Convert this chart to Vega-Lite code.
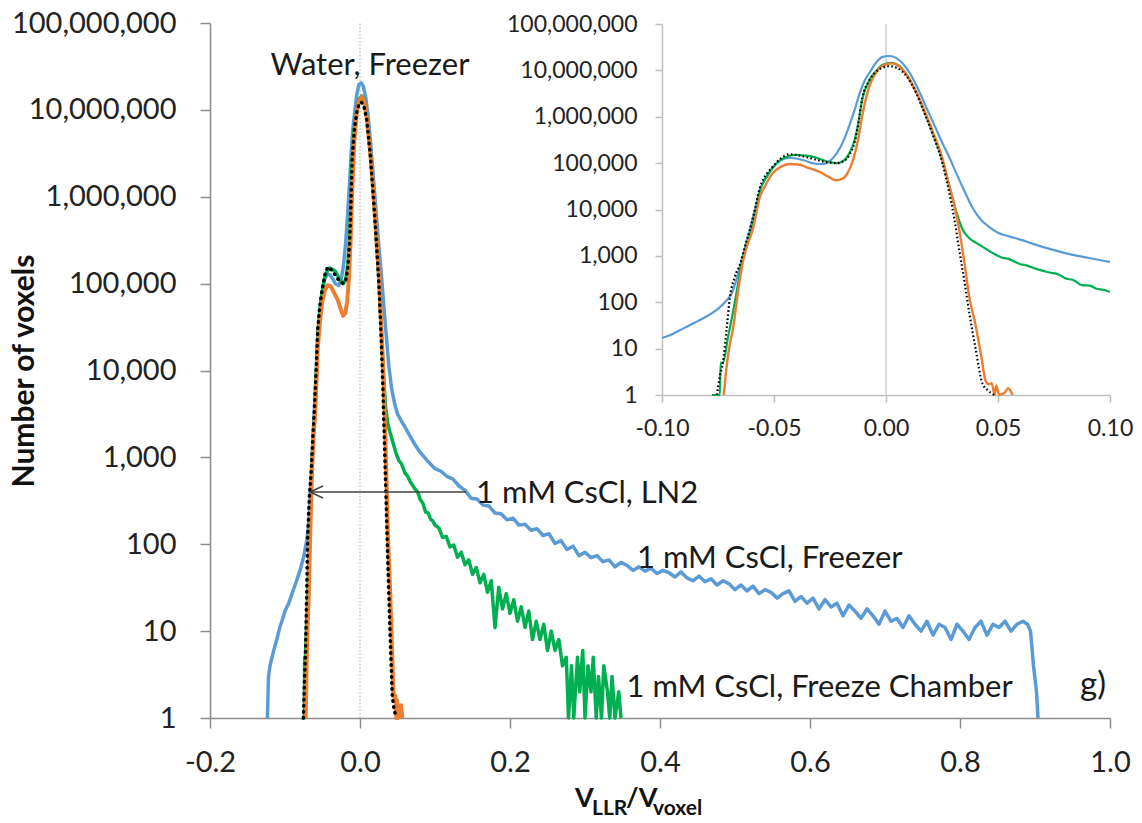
{
"$schema": "https://vega.github.io/schema/vega-lite/v6.json",
"width": 900,
"height": 695,
"autosize": {"type": "none"},
"padding": {"left": 210, "top": 23, "right": 32, "bottom": 105},
"background": "#ffffff",
"config": {"view": {"stroke": null}, "font": "Lato"},
"datasets": {
"curves": [
{"s":"B","x":-0.1235,"y":1},{"s":"B","x":-0.122,"y":3},{"s":"B","x":-0.12,"y":4},{"s":"B","x":-0.115,"y":6},{"s":"B","x":-0.111,"y":8},{"s":"B","x":-0.107,"y":11},{"s":"B","x":-0.103,"y":14},{"s":"B","x":-0.1,"y":17},{"s":"B","x":-0.095,"y":21},{"s":"B","x":-0.09,"y":28},{"s":"B","x":-0.085,"y":37},{"s":"B","x":-0.08,"y":50},{"s":"B","x":-0.075,"y":72},{"s":"B","x":-0.071,"y":112},{"s":"B","x":-0.0688,"y":158},{"s":"B","x":-0.067,"y":282},{"s":"B","x":-0.0653,"y":575},{"s":"B","x":-0.063,"y":1413},{"s":"B","x":-0.0608,"y":3631},{"s":"B","x":-0.058,"y":12589},{"s":"B","x":-0.056,"y":28184},{"s":"B","x":-0.053,"y":52481},{"s":"B","x":-0.0506,"y":79433},{"s":"B","x":-0.047,"y":114815},{"s":"B","x":-0.043,"y":128825},{"s":"B","x":-0.04,"y":125893},{"s":"B","x":-0.036,"y":112202},{"s":"B","x":-0.033,"y":100000},{"s":"B","x":-0.0283,"y":95499},{"s":"B","x":-0.025,"y":112202},{"s":"B","x":-0.022,"y":162181},{"s":"B","x":-0.019,"y":301995},{"s":"B","x":-0.0163,"y":660693},{"s":"B","x":-0.014,"y":1412538},{"s":"B","x":-0.0118,"y":3162278},{"s":"B","x":-0.0095,"y":6025596},{"s":"B","x":-0.007,"y":9549926},{"s":"B","x":-0.0042,"y":15135612},{"s":"B","x":-0.0015,"y":19498446},{"s":"B","x":0.0016,"y":20417379},{"s":"B","x":0.0045,"y":18620871},{"s":"B","x":0.0075,"y":14125375},{"s":"B","x":0.0105,"y":8912509},{"s":"B","x":0.0135,"y":4786301},{"s":"B","x":0.016,"y":2630268},{"s":"B","x":0.018,"y":1584893},{"s":"B","x":0.0215,"y":676083},{"s":"B","x":0.0252,"y":269153},{"s":"B","x":0.0285,"y":125893},{"s":"B","x":0.0314,"y":60256},{"s":"B","x":0.035,"y":25119},{"s":"B","x":0.0385,"y":11220},{"s":"B","x":0.042,"y":6310},{"s":"B","x":0.0461,"y":4169},{"s":"B","x":0.05,"y":3162},{"s":"B","x":0.055,"y":2630},{"s":"B","x":0.06,"y":2239},{"s":"B","x":0.065,"y":1862},{"s":"B","x":0.073,"y":1413},{"s":"B","x":0.08,"y":1148},{"s":"B","x":0.09,"y":912},
{"s":"B","x":0.1,"y":741},{"s":"B","x":0.108,"y":692},{"s":"B","x":0.116,"y":603},{"s":"B","x":0.124,"y":562},{"s":"B","x":0.132,"y":468},{"s":"B","x":0.14,"y":417},{"s":"B","x":0.148,"y":339},{"s":"B","x":0.156,"y":331},{"s":"B","x":0.164,"y":282},{"s":"B","x":0.172,"y":275},{"s":"B","x":0.18,"y":229},{"s":"B","x":0.188,"y":224},{"s":"B","x":0.196,"y":191},{"s":"B","x":0.204,"y":200},{"s":"B","x":0.212,"y":166},{"s":"B","x":0.22,"y":170},{"s":"B","x":0.228,"y":145},{"s":"B","x":0.236,"y":151},{"s":"B","x":0.244,"y":126},{"s":"B","x":0.252,"y":132},{"s":"B","x":0.26,"y":102},{"s":"B","x":0.268,"y":110},{"s":"B","x":0.276,"y":87},{"s":"B","x":0.284,"y":95},{"s":"B","x":0.292,"y":74},{"s":"B","x":0.3,"y":81},{"s":"B","x":0.308,"y":70},{"s":"B","x":0.316,"y":74},{"s":"B","x":0.324,"y":63},{"s":"B","x":0.332,"y":66},{"s":"B","x":0.34,"y":55},{"s":"B","x":0.348,"y":62},{"s":"B","x":0.356,"y":57},{"s":"B","x":0.364,"y":50},{"s":"B","x":0.372,"y":55},{"s":"B","x":0.38,"y":49},{"s":"B","x":0.388,"y":53},{"s":"B","x":0.396,"y":46},{"s":"B","x":0.404,"y":50},{"s":"B","x":0.412,"y":47},{"s":"B","x":0.42,"y":42},{"s":"B","x":0.428,"y":48},{"s":"B","x":0.436,"y":41},{"s":"B","x":0.444,"y":38},{"s":"B","x":0.452,"y":43},{"s":"B","x":0.46,"y":37},{"s":"B","x":0.468,"y":40},{"s":"B","x":0.476,"y":34},{"s":"B","x":0.484,"y":38},{"s":"B","x":0.492,"y":35},{"s":"B","x":0.5,"y":30},{"s":"B","x":0.508,"y":34},{"s":"B","x":0.516,"y":29},{"s":"B","x":0.524,"y":33},{"s":"B","x":0.532,"y":27},{"s":"B","x":0.54,"y":30},{"s":"B","x":0.548,"y":28},{"s":"B","x":0.556,"y":24},{"s":"B","x":0.564,"y":27},{"s":"B","x":0.572,"y":29},{"s":"B","x":0.58,"y":22},{"s":"B","x":0.588,"y":25},{"s":"B","x":0.596,"y":21},{"s":"B","x":0.604,"y":24},{"s":"B","x":0.612,"y":18},{"s":"B","x":0.62,"y":23},{"s":"B","x":0.628,"y":19},{"s":"B","x":0.636,"y":21},{"s":"B","x":0.644,"y":15},{"s":"B","x":0.652,"y":20},{"s":"B","x":0.66,"y":17},{"s":"B","x":0.668,"y":14},{"s":"B","x":0.676,"y":18},{"s":"B","x":0.684,"y":15},{"s":"B","x":0.692,"y":12},{"s":"B","x":0.7,"y":17},{"s":"B","x":0.708,"y":13},{"s":"B","x":0.716,"y":14},{"s":"B","x":0.724,"y":11},{"s":"B","x":0.732,"y":15},{"s":"B","x":0.74,"y":12},{"s":"B","x":0.748,"y":10},{"s":"B","x":0.756,"y":13},{"s":"B","x":0.764,"y":9},{"s":"B","x":0.772,"y":12},{"s":"B","x":0.78,"y":11},{"s":"B","x":0.788,"y":8},{"s":"B","x":0.796,"y":12},{"s":"B","x":0.804,"y":10},{"s":"B","x":0.812,"y":8},{"s":"B","x":0.82,"y":11},{"s":"B","x":0.828,"y":13},{"s":"B","x":0.836,"y":9},{"s":"B","x":0.844,"y":12},{"s":"B","x":0.852,"y":11},{"s":"B","x":0.86,"y":13},{"s":"B","x":0.868,"y":10},{"s":"B","x":0.876,"y":12},{"s":"B","x":0.884,"y":13},{"s":"B","x":0.89,"y":12},{"s":"B","x":0.894,"y":10},{"s":"B","x":0.898,"y":4},{"s":"B","x":0.902,"y":2},{"s":"B","x":0.904,"y":1},
{"s":"G","x":-0.0777,"y":1},{"s":"G","x":-0.0742,"y":1},{"s":"G","x":-0.0738,"y":5},{"s":"G","x":-0.0728,"y":5},{"s":"G","x":-0.0705,"y":18},{"s":"G","x":-0.0684,"y":58},{"s":"G","x":-0.0664,"y":200},{"s":"G","x":-0.0644,"y":700},{"s":"G","x":-0.062,"y":2000},{"s":"G","x":-0.06,"y":3630},{"s":"G","x":-0.058,"y":10000},{"s":"G","x":-0.056,"y":28184},{"s":"G","x":-0.053,"y":53703},{"s":"G","x":-0.0506,"y":79433},{"s":"G","x":-0.047,"y":117490},{"s":"G","x":-0.043,"y":144544},{"s":"G","x":-0.04,"y":151356},{"s":"G","x":-0.036,"y":144544},{"s":"G","x":-0.0327,"y":138038},{"s":"G","x":-0.029,"y":120226},{"s":"G","x":-0.025,"y":104713},{"s":"G","x":-0.022,"y":100000},{"s":"G","x":-0.019,"y":112202},{"s":"G","x":-0.0163,"y":165959},{"s":"G","x":-0.014,"y":316228},{"s":"G","x":-0.0127,"y":602560},{"s":"G","x":-0.0105,"y":2511886},{"s":"G","x":-0.0075,"y":6025596},{"s":"G","x":-0.0042,"y":10000000},{"s":"G","x":-0.0015,"y":13182567},{"s":"G","x":0.0025,"y":14454398},{"s":"G","x":0.0055,"y":12882496},{"s":"G","x":0.0091,"y":8317638},{"s":"G","x":0.0136,"y":3311311},{"s":"G","x":0.017,"y":1318257},{"s":"G","x":0.0207,"y":457088},{"s":"G","x":0.0252,"y":112202},{"s":"G","x":0.0283,"y":31623},{"s":"G","x":0.0314,"y":8913},{"s":"G","x":0.0341,"y":3802},{"s":"G","x":0.0372,"y":2399},{"s":"G","x":0.0403,"y":1905},{"s":"G","x":0.043,"y":1585},{"s":"G","x":0.048,"y":1122},{"s":"G","x":0.052,"y":912},{"s":"G","x":0.055,"y":851},{"s":"G","x":0.06,"y":661},{"s":"G","x":0.063,"y":617},{"s":"G","x":0.067,"y":525},{"s":"G","x":0.073,"y":437},{"s":"G","x":0.077,"y":398},{"s":"G","x":0.08,"y":331},{"s":"G","x":0.084,"y":295},{"s":"G","x":0.0875,"y":234},{"s":"G","x":0.091,"y":229},{"s":"G","x":0.094,"y":195},{"s":"G","x":0.097,"y":186},
{"s":"G","x":0.1,"y":166},{"s":"G","x":0.105,"y":155},{"s":"G","x":0.11,"y":120},{"s":"G","x":0.115,"y":123},{"s":"G","x":0.12,"y":93},{"s":"G","x":0.125,"y":98},{"s":"G","x":0.13,"y":71},{"s":"G","x":0.135,"y":81},{"s":"G","x":0.14,"y":58},{"s":"G","x":0.145,"y":66},{"s":"G","x":0.15,"y":45},{"s":"G","x":0.155,"y":54},{"s":"G","x":0.16,"y":36},{"s":"G","x":0.165,"y":45},{"s":"G","x":0.17,"y":28},{"s":"G","x":0.175,"y":38},{"s":"G","x":0.18,"y":11},{"s":"G","x":0.185,"y":32},{"s":"G","x":0.19,"y":18},{"s":"G","x":0.195,"y":27},{"s":"G","x":0.2,"y":16},{"s":"G","x":0.205,"y":23},{"s":"G","x":0.21,"y":13},{"s":"G","x":0.215,"y":19},{"s":"G","x":0.22,"y":11},{"s":"G","x":0.225,"y":17},{"s":"G","x":0.23,"y":8},{"s":"G","x":0.235,"y":13},{"s":"G","x":0.24,"y":8},{"s":"G","x":0.245,"y":12},{"s":"G","x":0.25,"y":6},{"s":"G","x":0.255,"y":10},{"s":"G","x":0.26,"y":6},{"s":"G","x":0.265,"y":8},{"s":"G","x":0.27,"y":4},{"s":"G","x":0.275,"y":5},{"s":"G","x":0.278,"y":1},{"s":"G","x":0.282,"y":4},{"s":"G","x":0.285,"y":1},{"s":"G","x":0.29,"y":5},{"s":"G","x":0.293,"y":2},{"s":"G","x":0.297,"y":6},{"s":"G","x":0.3,"y":1},{"s":"G","x":0.304,"y":4},{"s":"G","x":0.308,"y":2},{"s":"G","x":0.311,"y":5},{"s":"G","x":0.315,"y":1},{"s":"G","x":0.318,"y":3},{"s":"G","x":0.322,"y":1},{"s":"G","x":0.325,"y":4},{"s":"G","x":0.33,"y":2},{"s":"G","x":0.333,"y":1},{"s":"G","x":0.336,"y":3},{"s":"G","x":0.34,"y":1},{"s":"G","x":0.345,"y":2},{"s":"G","x":0.348,"y":1},
{"s":"O","x":-0.0724,"y":1},{"s":"O","x":-0.0712,"y":4},{"s":"O","x":-0.0698,"y":12},{"s":"O","x":-0.0684,"y":25},{"s":"O","x":-0.0662,"y":150},{"s":"O","x":-0.064,"y":700},{"s":"O","x":-0.0618,"y":1800},{"s":"O","x":-0.0595,"y":3630},{"s":"O","x":-0.0563,"y":18621},{"s":"O","x":-0.0535,"y":35481},{"s":"O","x":-0.0506,"y":60256},{"s":"O","x":-0.047,"y":83176},{"s":"O","x":-0.043,"y":95499},{"s":"O","x":-0.039,"y":93325},{"s":"O","x":-0.0354,"y":81283},{"s":"O","x":-0.0296,"y":64565},{"s":"O","x":-0.0255,"y":50119},{"s":"O","x":-0.0225,"y":42658},{"s":"O","x":-0.0195,"y":45709},{"s":"O","x":-0.017,"y":63096},{"s":"O","x":-0.0145,"y":125893},{"s":"O","x":-0.0125,"y":316228},{"s":"O","x":-0.0105,"y":1122018},{"s":"O","x":-0.0075,"y":4466836},{"s":"O","x":-0.0042,"y":9332543},{"s":"O","x":-0.0015,"y":12589254},{"s":"O","x":0.0025,"y":14125375},{"s":"O","x":0.0055,"y":12589254},{"s":"O","x":0.0091,"y":7943282},{"s":"O","x":0.0136,"y":3311311},{"s":"O","x":0.017,"y":1412538},{"s":"O","x":0.0207,"y":501187},{"s":"O","x":0.0252,"y":125893},{"s":"O","x":0.0283,"y":31623},{"s":"O","x":0.0305,"y":12589},{"s":"O","x":0.0327,"y":3631},{"s":"O","x":0.035,"y":708},{"s":"O","x":0.0372,"y":129},{"s":"O","x":0.04,"y":32},{"s":"O","x":0.0425,"y":7},{"s":"O","x":0.0445,"y":2},{"s":"O","x":0.0458,"y":1.7},{"s":"O","x":0.0472,"y":1.8},{"s":"O","x":0.0485,"y":1},{"s":"O","x":0.0492,"y":1.6},{"s":"O","x":0.0505,"y":1},{"s":"O","x":0.0528,"y":1.1},{"s":"O","x":0.0545,"y":1.4},{"s":"O","x":0.0565,"y":1},
{"s":"K","x":-0.0755,"y":1},{"s":"K","x":-0.0742,"y":2.5},{"s":"K","x":-0.0728,"y":5},{"s":"K","x":-0.0712,"y":25},{"s":"K","x":-0.0697,"y":126},{"s":"K","x":-0.0675,"y":350},{"s":"K","x":-0.065,"y":700},{"s":"K","x":-0.063,"y":1600},{"s":"K","x":-0.0608,"y":3630},{"s":"K","x":-0.0585,"y":10000},{"s":"K","x":-0.0563,"y":30200},{"s":"K","x":-0.0535,"y":56234},{"s":"K","x":-0.0506,"y":83176},{"s":"K","x":-0.047,"y":125893},{"s":"K","x":-0.043,"y":154882},{"s":"K","x":-0.0395,"y":147911},{"s":"K","x":-0.0354,"y":134896},{"s":"K","x":-0.031,"y":117490},{"s":"K","x":-0.0265,"y":104713},{"s":"K","x":-0.022,"y":100000},{"s":"K","x":-0.019,"y":109648},{"s":"K","x":-0.0163,"y":151356},{"s":"K","x":-0.014,"y":281838},{"s":"K","x":-0.0127,"y":562341},{"s":"K","x":-0.0105,"y":2630268},{"s":"K","x":-0.0075,"y":6025596},{"s":"K","x":-0.0042,"y":9549926},{"s":"K","x":-0.0015,"y":11481536},{"s":"K","x":0.0016,"y":12302688},{"s":"K","x":0.005,"y":11220185},{"s":"K","x":0.0091,"y":7585776},{"s":"K","x":0.0136,"y":3162278},{"s":"K","x":0.017,"y":1258925},{"s":"K","x":0.0207,"y":436516},{"s":"K","x":0.0252,"y":100000},{"s":"K","x":0.0283,"y":22387},{"s":"K","x":0.0305,"y":6310},{"s":"K","x":0.0327,"y":1349},{"s":"K","x":0.035,"y":282},{"s":"K","x":0.0372,"y":59},{"s":"K","x":0.04,"y":10},{"s":"K","x":0.043,"y":1.8},{"s":"K","x":0.0455,"y":1.26},{"s":"K","x":0.0483,"y":1}
],
"zero": [{"x":0,"y":1},{"x":0,"y":100000000}],
"notesCenter": [{"t":"Water, Freezer","x":0.01333,"y":25200000}],
"notesLeft": [
{"t":"1 mM CsCl, LN2","x":0.1547,"y":298.5},
{"t":"1 mM CsCl, Freezer","x":0.3693,"y":53.3},
{"t":"1 mM CsCl, Freeze Chamber","x":0.3553,"y":1.745}
],
"panelTag": [{"t":"g)","x":0.96,"y":1.84}],
"arrow": [{"x":0.1413,"y":399.5},{"x":-0.0667,"y":399.5}],
"arrowTip": [{"x":-0.0667,"y":399.5}],
"xtitleBig": [{"t":"V","x":0.2867,"y":0.0945},{"t":"/V","x":0.3547,"y":0.0945}],
"xtitleSub": [{"t":"LLR","x":0.3093,"y":0.0765},{"t":"voxel","x":0.3907,"y":0.0765}]
},
"layer": [
{
"encoding": {
"x": {"field":"x","type":"quantitative","scale":{"domain":[-0.2,1.0],"nice":false,"zero":false},
"axis":{"orient":"bottom","values":[-0.2,0,0.2,0.4,0.6,0.8,1.0],"format":".1f","labelExpr":"replace(datum.label, '\u2212', '-')","title":null,"grid":false,"domainColor":"#8c8c8c","domainWidth":1.5,"tickColor":"#8c8c8c","tickWidth":1.5,"tickSize":10,"labelFontSize":29,"labelFont":"Lato","labelColor":"#222222","labelPadding":20,"labelFlush":false,"labelOverlap":false}},
"y": {"field":"y","type":"quantitative","scale":{"type":"log","domain":[1,100000000],"nice":false},
"axis":{"orient":"left","values":[1,10,100,1000,10000,100000,1000000,10000000,100000000],"format":",","grid":false,"domainColor":"#8c8c8c","domainWidth":1.5,"tickColor":"#8c8c8c","tickWidth":1.5,"tickSize":10,"labelFontSize":29,"labelFont":"Lato","labelColor":"#222222","labelPadding":24,"labelFlush":false,"labelOverlap":false,"title":"Number of voxels","titleFont":"Lato","titleFontSize":30,"titleFontWeight":"bold","titleColor":"#111111","titleX":-177,"titleY":347.5,"titleAngle":270,"titleBaseline":"alphabetic","titleAlign":"center"}}
},
"layer": [
{"data":{"name":"zero"},"mark":{"type":"line","color":"#a6a6a6","strokeWidth":1,"strokeDash":[1.5,2]}},
{"data":{"name":"curves"},"transform":[{"filter":"datum.s=='B'"}],"mark":{"type":"line","color":"#5B9BD5","strokeWidth":3.5,"strokeJoin":"round"}},
{"data":{"name":"curves"},"transform":[{"filter":"datum.s=='G'"}],"mark":{"type":"line","color":"#00B050","strokeWidth":3.5,"strokeJoin":"round"}},
{"data":{"name":"curves"},"transform":[{"filter":"datum.s=='O'"}],"mark":{"type":"line","color":"#ED7D31","strokeWidth":4,"strokeJoin":"round"}},
{"data":{"name":"curves"},"transform":[{"filter":"datum.s=='K'"}],"mark":{"type":"line","color":"#000000","strokeWidth":3.5,"strokeCap":"round","strokeDash":[0.5,5.5]}},
{"data":{"name":"arrow"},"mark":{"type":"line","color":"#404040","strokeWidth":1.5}},
{"data":{"name":"arrowTip"},"mark":{"type":"point","shape":"M2.6,-1.2L0,0L2.6,1.2","size":100,"filled":false,"color":"#404040","strokeWidth":1.5,"opacity":1}},
{"data":{"name":"notesCenter"},"mark":{"type":"text","align":"center","baseline":"alphabetic","fontSize":31,"font":"Lato","color":"#1a1a1a"},"encoding":{"text":{"field":"t"}}},
{"data":{"name":"notesLeft"},"mark":{"type":"text","align":"left","baseline":"alphabetic","fontSize":31,"font":"Lato","color":"#1a1a1a"},"encoding":{"text":{"field":"t"}}},
{"data":{"name":"panelTag"},"mark":{"type":"text","align":"left","baseline":"alphabetic","fontSize":33,"font":"Lato","color":"#1a1a1a"},"encoding":{"text":{"field":"t"}}},
{"data":{"name":"xtitleBig"},"mark":{"type":"text","align":"left","baseline":"alphabetic","fontSize":27,"font":"Lato","fontWeight":"bold","color":"#111111"},"encoding":{"text":{"field":"t"}}},
{"data":{"name":"xtitleSub"},"mark":{"type":"text","align":"left","baseline":"alphabetic","fontSize":21,"font":"Lato","fontWeight":"bold","color":"#111111"},"encoding":{"text":{"field":"t"}}}
]
},
{
"encoding": {
"x": {"field":"x","type":"quantitative","scale":{"domain":[-0.1,0.1],"nice":false,"zero":false,"range":[452,900]},
"axis":{"orient":"bottom","offset":-323,"values":[-0.1,-0.05,0,0.05,0.1],"format":".2f","labelExpr":"replace(datum.label, '\u2212', '-')","title":null,"grid":false,"domainColor":"#bfbfbf","domainWidth":1.5,"tickColor":"#bfbfbf","tickWidth":1.5,"tickSize":7,"labelFontSize":23,"labelFont":"Lato","labelColor":"#222222","labelPadding":15,"labelFlush":false,"labelOverlap":false}},
"y": {"field":"y","type":"quantitative","scale":{"type":"log","domain":[1,100000000],"nice":false,"range":[372,1]},
"axis":{"orient":"left","offset":-452,"values":[1,10,100,1000,10000,100000,1000000,10000000,100000000],"format":",","title":null,"grid":false,"domainColor":"#bfbfbf","domainWidth":1.5,"tickColor":"#bfbfbf","tickWidth":1.5,"tickSize":7,"labelFontSize":23,"labelFont":"Lato","labelColor":"#222222","labelPadding":18,"labelFlush":false,"labelOverlap":false}}
},
"layer": [
{"data":{"name":"zero"},"mark":{"type":"line","color":"#d0d0d0","strokeWidth":1.5}},
{"data":{"name":"curves"},"transform":[{"filter":"datum.s=='B' && datum.x >= -0.1 && datum.x <= 0.1"}],"mark":{"type":"line","color":"#5B9BD5","strokeWidth":2.2,"interpolate":"monotone"}},
{"data":{"name":"curves"},"transform":[{"filter":"datum.s=='G' && datum.x >= -0.1 && datum.x <= 0.1"}],"mark":{"type":"line","color":"#00B050","strokeWidth":2.2,"interpolate":"monotone"}},
{"data":{"name":"curves"},"transform":[{"filter":"datum.s=='O' && datum.x >= -0.1 && datum.x <= 0.1"}],"mark":{"type":"line","color":"#ED7D31","strokeWidth":2.4,"interpolate":"monotone"}},
{"data":{"name":"curves"},"transform":[{"filter":"datum.s=='K' && datum.x >= -0.1 && datum.x <= 0.1"}],"mark":{"type":"line","color":"#000000","strokeWidth":2.2,"strokeDash":[1.6,2.4],"interpolate":"monotone"}}
]
}
],
"resolve": {"scale":{"x":"independent","y":"independent"},"axis":{"x":"independent","y":"independent"}}
}
